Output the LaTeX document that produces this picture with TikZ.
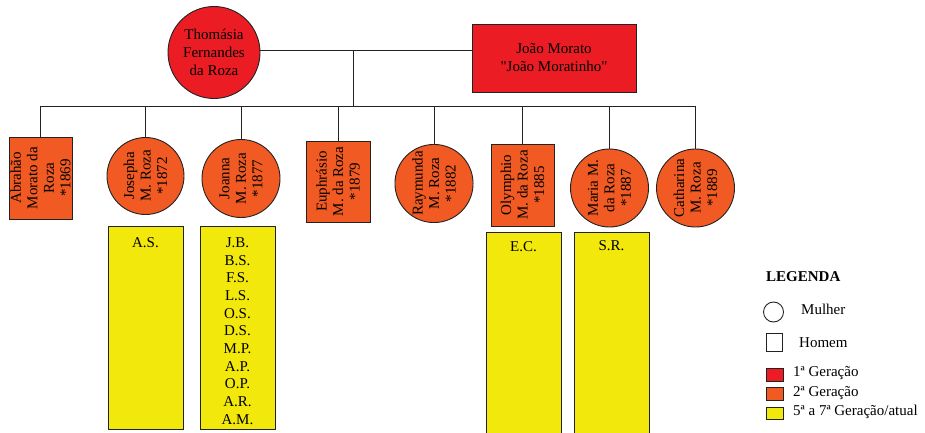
\documentclass[tikz,border=0pt]{standalone}
\usepackage{fontspec}
\setmainfont{Liberation Serif}
\newfontfamily\qfont{Liberation Serif}
\newcommand{\sq}{{\qfont"}}
\definecolor{gred}{HTML}{EC1C24}
\definecolor{gorange}{HTML}{F15A22}
\definecolor{gyellow}{HTML}{F2E80C}
\definecolor{edge}{HTML}{222222}
\begin{document}
\begin{tikzpicture}[x=1pt,y=1pt,
  base/.style={draw=edge,line width=0.9pt,inner sep=0pt,align=center,font=\fontsize{15}{18}\selectfont},
  fcirc/.style={base,circle,fill=gorange,minimum size=78pt,rotate=90,font=\fontsize{15}{16.5}\selectfont},
  mbox/.style={base,rectangle,fill=gorange,minimum width=82pt,minimum height=63pt,rotate=90,font=\fontsize{15}{16.5}\selectfont},
  ybox/.style={base,rectangle,fill=gyellow,minimum width=75pt},
  txt/.style={inner sep=0pt,align=center,font=\fontsize{15}{17.7}\selectfont},
  leg/.style={inner sep=0pt,anchor=west,font=\fontsize{15}{18}\selectfont},
  conn/.style={draw=edge,line width=0.9pt}]
\useasboundingbox (0,0) rectangle (925,-433);
% first generation
\node[base,circle,fill=gred,minimum size=92pt] (thomasia) at (214,-52.5) {Thomásia\\Fernandes\\da Roza};
\node[base,rectangle,fill=gred,minimum width=164pt,minimum height=68pt] (joao) at (554,-58) {João Morato\\\sq João Moratinho\sq};
\coordinate (marr) at (353,-50);
\coordinate (bar) at (0,-106);
\draw[conn] (thomasia.east |- marr) -- (joao.west |- marr);
\draw[conn] (marr) -- (marr |- bar);
% second generation
\node[mbox] (abrahao) at (40.5,-178) {Abrahão\\Morato da\\Roza\\*1869};
\node[fcirc,minimum size=77pt] (josepha) at (145.5,-176) {Josepha\\M. Roza\\*1872};
\node[fcirc] (joanna) at (241,-178.5) {Joanna\\M. Roza\\*1877};
\node[mbox,minimum width=81pt,minimum height=64pt] (euphrasio) at (338,-181.5) {Euphrásio\\M. da Roza\\*1879};
\node[fcirc,minimum size=77pt] (raymunda) at (434,-183.5) {Raymunda\\M. Roza\\*1882};
\node[mbox] (olymphio) at (522.5,-185) {Olymphio\\M. da Roza\\*1885};
\node[fcirc] (maria) at (609.5,-188) {Maria M.\\da Roza\\*1887};
\node[fcirc] (catharina) at (695.5,-188) {Catharina\\M. Roza\\*1889};
\draw[conn] (abrahao.east |- bar) -- (catharina.east |- bar);
\foreach \c in {abrahao,euphrasio,olymphio}{
  \draw[conn] (\c.east) -- (\c.east |- bar);
}
\foreach \c in {josepha,joanna,raymunda,maria,catharina}{
  \draw[conn] (\c.east) -- (\c.east |- bar);
}
% descendants
\node[ybox,minimum height=203pt] (as) at (145.5,-327.5) {};
\node[txt] (astxt) at (145.5,-243) {A.S.};
\node[ybox,minimum height=203pt] (jb) at (237.5,-327.5) {};
\node[txt] (jbtxt) at (237.5,-331) {J.B.\\B.S.\\F.S.\\L.S.\\O.S.\\D.S.\\M.P.\\A.P.\\O.P.\\A.R.\\A.M.};
\node[ybox,minimum height=208pt] (ec) at (523.5,-336) {};
\node[txt] (ectxt) at (523.5,-247) {E.C.};
\node[ybox,minimum height=208pt] (sr) at (611.5,-336) {};
\node[txt] (srtxt) at (611.5,-246) {S.R.};
% legend
\node[leg,font=\fontsize{15}{18}\selectfont\bfseries] (legtitle) at (766,-277) {LEGENDA};
\node[draw=edge,line width=0.9pt,circle,minimum size=20pt,inner sep=0pt] (legc) at (773.5,-312) {};
\node[leg] (legmulher) at (801,-309) {Mulher};
\node[draw=edge,line width=0.9pt,rectangle,minimum width=16pt,minimum height=18pt,inner sep=0pt] (legs) at (774,-342) {};
\node[leg] (leghomem) at (799,-343) {Homem};
\node[draw=edge,line width=0.9pt,fill=gred,minimum width=17pt,minimum height=13pt,inner sep=0pt] (leg1) at (774.5,-374.5) {};
\node[leg] (leg1t) at (793,-373) {1ª Geração};
\node[draw=edge,line width=0.9pt,fill=gorange,minimum width=17pt,minimum height=13pt,inner sep=0pt] (leg2) at (774.5,-393.5) {};
\node[leg] (leg2t) at (793,-393) {2ª Geração};
\node[draw=edge,line width=0.9pt,fill=gyellow,minimum width=17pt,minimum height=12pt,inner sep=0pt] (leg3) at (774.5,-413) {};
\node[leg] (leg3t) at (793,-412) {5ª a 7ª Geração/atual};
\end{tikzpicture}
\end{document}
